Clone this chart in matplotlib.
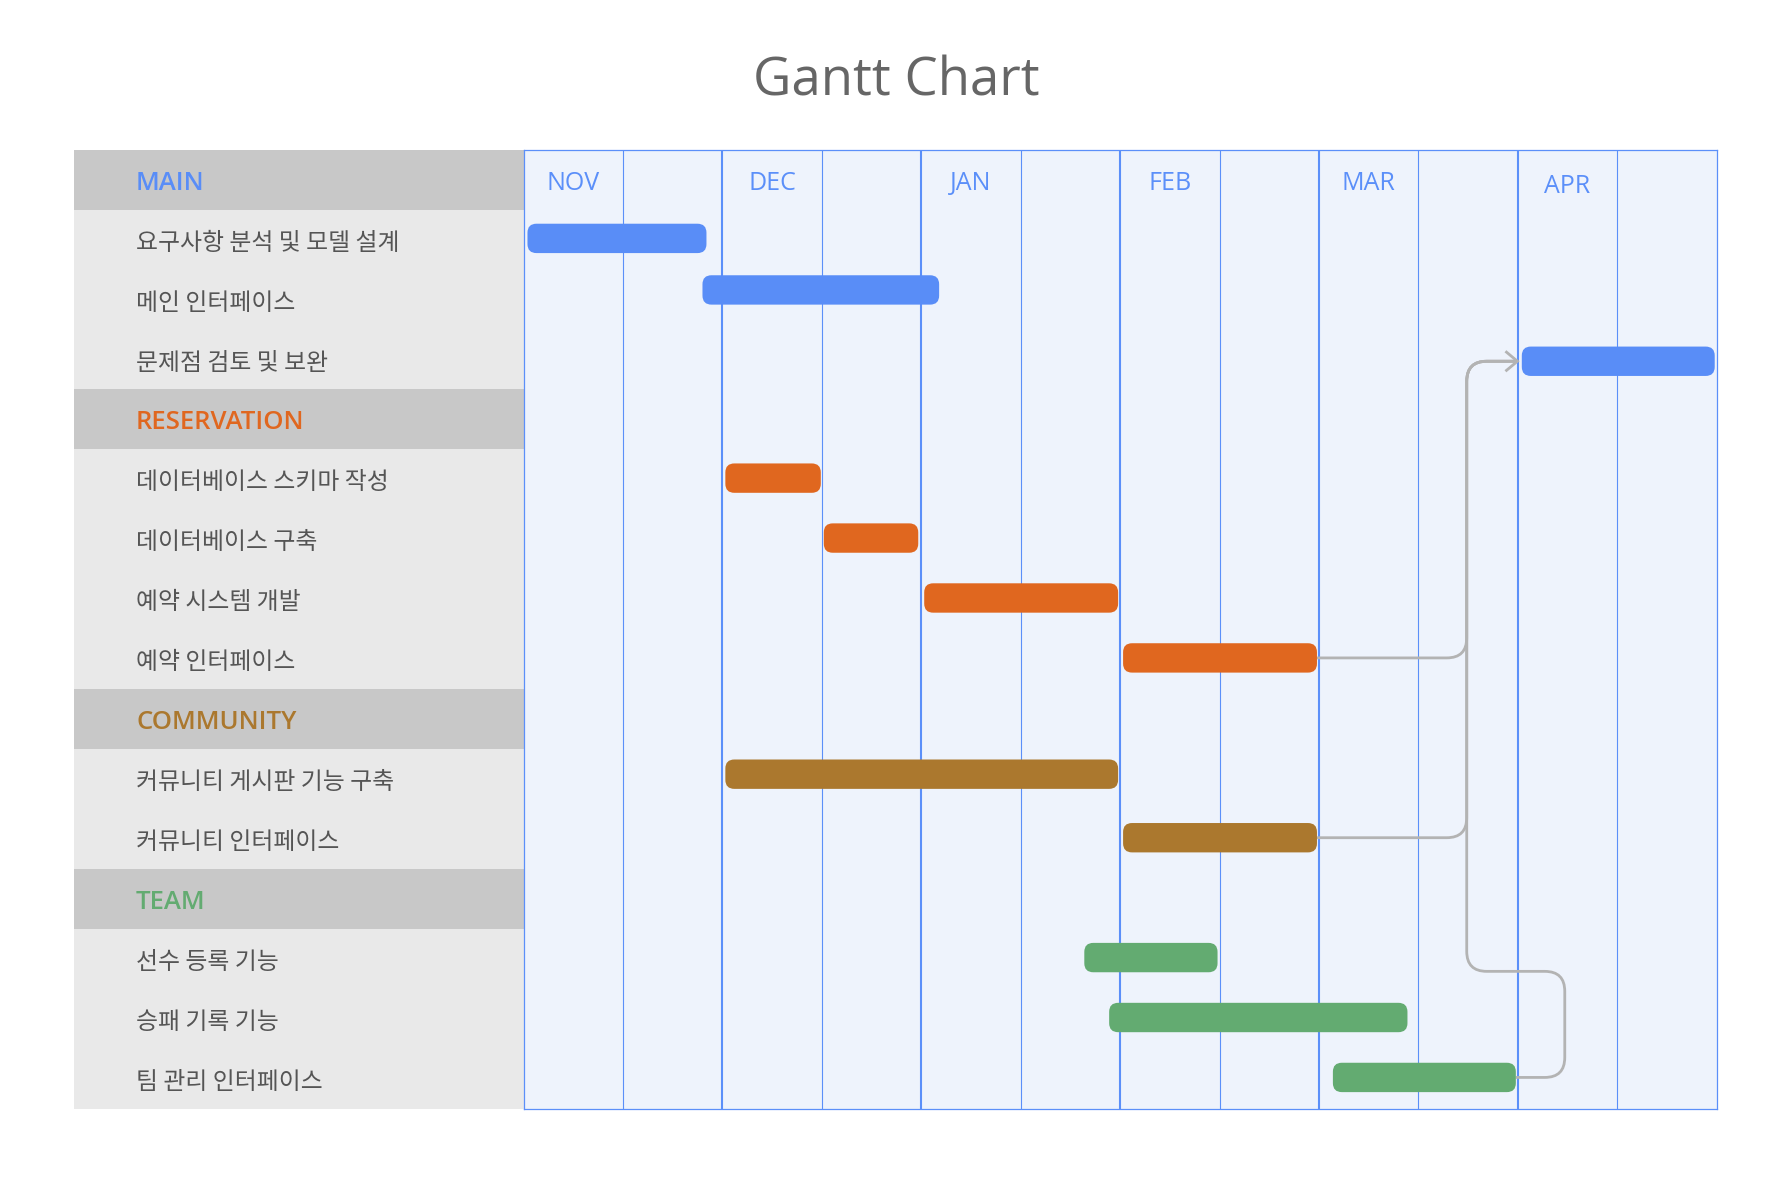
import matplotlib
matplotlib.use("Agg")
import matplotlib.pyplot as plt
from matplotlib.patches import FancyBboxPatch, Rectangle, PathPatch
from matplotlib.path import Path

# ---------------- data ----------------
groups = ["MAIN", "RESERVATION", "COMMUNITY", "TEAM"]
group_colors = ["#598DF7", "#E0671F", "#AB782E", "#63AB71"]
group_tasks = [
    ["요구사항 분석 및 모델 설계", "메인 인터페이스", "문제점 검토 및 보완"],
    ["데이터베이스 스키마 작성", "데이터베이스 구축", "예약 시스템 개발", "예약 인터페이스"],
    ["커뮤니티 게시판 기능 구축", "커뮤니티 인터페이스"],
    ["선수 등록 기능", "승패 기록 기능", "팀 관리 인터페이스"],
]
# start / end of each task, in months counted from 1 Nov
task_start = [0.02, 0.90, 5.02, 1.015, 1.51, 2.015, 3.015, 1.015, 3.015, 2.82, 2.945, 4.07]
task_end = [0.92, 2.09, 5.99, 1.495, 1.985, 2.99, 3.99, 2.99, 3.99, 3.49, 4.445, 4.99]
months = ["NOV", "DEC", "JAN", "FEB", "MAR", "APR"]
dependencies = [
    ("예약 인터페이스", "문제점 검토 및 보완"),
    ("커뮤니티 인터페이스", "문제점 검토 및 보완"),
    ("팀 관리 인터페이스", "문제점 검토 및 보완"),
]

# ---------------- style ----------------
HEADER_BG = "#C8C8C8"
TASK_BG = "#E9E9E9"
CHART_BG = "#EEF3FC"
GRID = "#5B8FF9"
LINK = "#B3B3B3"
TEXT = "#555555"
KR = ["Noto Sans CJK KR", "DejaVu Sans"]
LAT = ["Open Sans", "DejaVu Sans"]

# build rows
rows = []  # (label, is_header, color)
task_rows = []
task_names = []
task_colors = []
for g, c, tasks in zip(groups, group_colors, group_tasks):
    rows.append((g, True, c))
    for t in tasks:
        task_rows.append(len(rows))
        task_names.append(t)
        task_colors.append(c)
        rows.append((t, False, c))
n_rows = len(rows)
bar_nudge = {1: -0.14, 7: -0.06, 2: 0.05}  # small per-bar vertical nudges (by task index)

W, H = 1792, 1200
fig = plt.figure(figsize=(W / 100, H / 100), dpi=100)
fig.patch.set_facecolor("white")

x0, x1 = 523.5, 1716.7
y0, y1 = 149.7, 1108.6
lx0 = 74.0

lax = fig.add_axes([lx0 / W, 1 - y1 / H, (x0 - lx0) / W, (y1 - y0) / H])
ax = fig.add_axes([x0 / W, 1 - y1 / H, (x1 - x0) / W, (y1 - y0) / H])

# ---------- left panel ----------
lax.set_xlim(0, 1)
lax.set_ylim(n_rows, 0)
lax.axis("off")
for i, (label, is_header, c) in enumerate(rows):
    lax.add_patch(Rectangle((0, i), 1, 1, facecolor=HEADER_BG if is_header else TASK_BG,
                            edgecolor="none"))
    if is_header:
        lax.text(0.138, i + 0.56, label, color=c, fontsize=18.5, fontweight="semibold",
                 family=LAT, ha="left", va="center")
    else:
        lax.text(0.138, i + 0.56, label, color=TEXT, fontsize=17.2,
                 family=KR, ha="left", va="center")

# ---------- chart panel ----------
n_months = len(months)
ax.set_xlim(0, n_months)
ax.set_ylim(n_rows, 0)
ax.set_facecolor(CHART_BG)
ax.set_xticks([])
ax.set_yticks([])
for s in ax.spines.values():
    s.set_color(GRID)
    s.set_linewidth(0.9)

for k in range(1, 2 * n_months):
    ax.axvline(k * 0.5, color=GRID, lw=1.5 if k % 2 == 0 else 0.8, zorder=1)

for m, name in enumerate(months):
    dy = 0.06 if name == "APR" else 0.0
    ax.text(m + 0.25, 0.56 + dy, name, color=GRID, fontsize=18, family=LAT,
            ha="center", va="center", zorder=3)

# aspect for rounded corners
px_x = n_months / (x1 - x0)
px_y = n_rows / (y1 - y0)
aspect = px_y / px_x
rs = 9 * px_x
bar_h = 0.49

bar_center = {}
for ti, (r, s, e, c) in enumerate(zip(task_rows, task_start, task_end, task_colors)):
    yc = r + 0.5 + bar_nudge.get(ti, 0.0) - 0.02
    bar_center[task_names[ti]] = (s, e, yc)
    ax.add_patch(FancyBboxPatch((s, yc - bar_h / 2), e - s, bar_h,
                                boxstyle=f"round,pad=0,rounding_size={rs}",
                                mutation_aspect=aspect, facecolor=c, edgecolor="none",
                                zorder=4))


def rounded_path(points, rx, ry):
    verts = [points[0]]
    codes = [Path.MOVETO]
    for i in range(1, len(points) - 1):
        px, py = points[i]
        ax_, ay_ = points[i - 1]
        bx, by = points[i + 1]
        sx1 = (px > ax_) - (px < ax_)
        sy1 = (py > ay_) - (py < ay_)
        sx2 = (bx > px) - (bx < px)
        sy2 = (by > py) - (by < py)
        before = (px - sx1 * rx, py - sy1 * ry)
        after = (px + sx2 * rx, py + sy2 * ry)
        verts += [before, (px, py), after]
        codes += [Path.LINETO, Path.CURVE3, Path.CURVE3]
    verts.append(points[-1])
    codes.append(Path.LINETO)
    return Path(verts, codes)


rx = 20 * px_x
ry = 20 * px_y
route_x = 4.743
loop_x = 5.236
loop_y = 13.71
lw_link = 2.0

target = bar_center[dependencies[0][1]]
tgt_x, tgt_y = target[0] - 0.022, target[2]

for src_name, _ in dependencies:
    s, e, yc = bar_center[src_name]
    if e < route_x:
        pts = [(e, yc), (route_x, yc), (route_x, tgt_y), (tgt_x, tgt_y)]
    else:
        pts = [(e, yc), (loop_x, yc), (loop_x, loop_y), (route_x, loop_y),
               (route_x, tgt_y), (tgt_x, tgt_y)]
    ax.add_patch(PathPatch(rounded_path(pts, rx, ry), facecolor="none", edgecolor=LINK,
                           lw=lw_link, capstyle="butt", joinstyle="round", zorder=2))

# open arrow head
hl = 12 * px_x
hw = 10 * px_y
ax.plot([tgt_x - hl, tgt_x, tgt_x - hl], [tgt_y - hw, tgt_y, tgt_y + hw], color=LINK,
        lw=lw_link, solid_joinstyle="miter", solid_capstyle="butt", zorder=2)

fig.text(0.5, 1 - 82 / H, "Gantt Chart", color="#666666", fontsize=38, family=LAT,
         ha="center", va="center")

fig.savefig("out.png", dpi=100, facecolor="white")
